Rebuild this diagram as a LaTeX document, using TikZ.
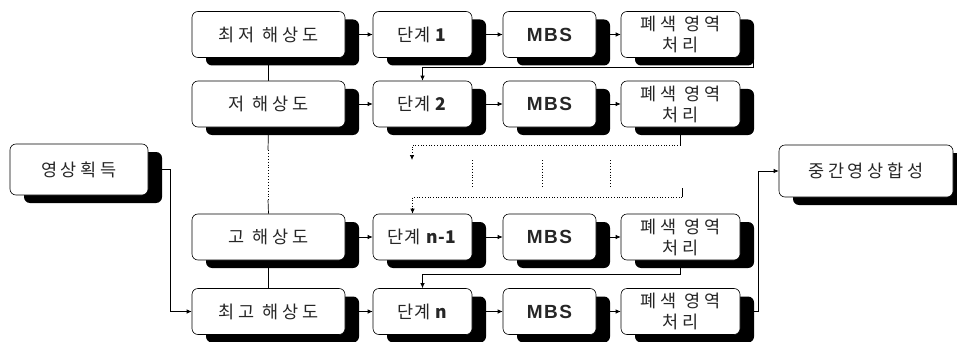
\documentclass[tikz,border=0pt]{standalone}
\usepackage{fontspec}
\setmainfont{Liberation Sans}
\newfontfamily\kr[LetterSpace=22]{Noto Sans CJK KR}
\newfontfamily\krs[LetterSpace=4]{Noto Sans CJK KR}
\newfontfamily\mbs[LetterSpace=8]{Liberation Sans}
\usetikzlibrary{shadows,arrows.meta,backgrounds}
\begin{document}
\begin{tikzpicture}[x=1pt,y=-1pt,
  box/.style={draw=black, line width=0.6pt, fill=white, rounded corners=6pt,
    minimum height=46pt, inner sep=0pt, align=center, text=black!85,
    font=\fontsize{17.5}{21}\selectfont,
    drop shadow={shadow xshift=14pt, shadow yshift=-8pt, fill=black, opacity=1}},
  colA/.style={box, minimum width=153pt},
  colB/.style={box, minimum width=99pt},
  colC/.style={box, minimum width=93pt, font=\fontsize{19}{21}\selectfont},
  colD/.style={box, minimum width=119pt},
  arr/.style={-{Latex[length=5pt,width=4.5pt]}, line width=0.7pt},
  conn/.style={line width=0.7pt},
  dots/.style={line width=0.9pt, dotted}
]
\useasboundingbox (0,0) rectangle (957,342);

% left / right boxes
\node[box, minimum width=138pt, minimum height=51pt] (G) at (79,169.5) {\kr 영상획득};
\node[box, minimum width=174pt, minimum height=52pt] (E) at (866,171) {\kr 중간영상합성};

% rows
\node[colA] (A1) at (268.5,34.5) {\kr 최저 해상도};
\node[colB] (B1) at (422.5,34.5) {\krs 단계 \textbf{1}};
\node[colC] (C1) at (549.5,34.5) {\mbs\bfseries MBS};
\node[colD] (D1) at (680.5,34.5) {\kr 폐색 영역\\\kr 처리};

\node[colA] (A2) at (268.5,104) {\kr 저 해상도};
\node[colB] (B2) at (422.5,104) {\krs 단계 \textbf{2}};
\node[colC] (C2) at (549.5,104) {\mbs\bfseries MBS};
\node[colD] (D2) at (680.5,104) {\kr 폐색 영역\\\kr 처리};

\node[colA] (A3) at (268.5,237) {\kr 고 해상도};
\node[colB] (B3) at (422.5,237) {\krs 단계 \textbf{n-1}};
\node[colC] (C3) at (549.5,237) {\mbs\bfseries MBS};
\node[colD] (D3) at (680.5,237) {\kr 폐색 영역\\\kr 처리};

\node[colA] (A4) at (268.5,311.5) {\kr 최고 해상도};
\node[colB] (B4) at (422.5,311.5) {\krs 단계 \textbf{n}};
\node[colC] (C4) at (549.5,311.5) {\mbs\bfseries MBS};
\node[colD] (D4) at (680.5,311.5) {\kr 폐색 영역\\\kr 처리};

\coordinate (m1) at (412,160);
\coordinate (p1) at (268,150);
\coordinate (p2) at (268,200);
\coordinate (q1) at (682,188);

\begin{scope}[on background layer]
  % row arrows
  \foreach \r in {1,2,3,4}{
    \draw[arr] (A\r.east) -- (B\r.west);
    \draw[arr] (B\r.east) -- (C\r.west);
    \draw[arr] (C\r.east) -- (D\r.west);
  }
  % resolution column
  \draw[conn] (A1.south) -- (A2.north);
  \draw[conn] (A2.south) -- (p1);
  \draw[dots] (p1) -- (p2);
  \draw[conn] (p2) -- (A3.north);
  \draw[conn] (A3.south) -- (A4.north);
  % input
  \draw[arr] (G.east) -- ++(22,0) |- (A4.west);
  % feedback loops
  \draw[arr] ([xshift=13pt]D1.south east) -- ++(0,10) -| (B2.north);
  \draw[conn] (D2.south) -- ++(0,18) coordinate (d2a);
  \draw[arr, dotted] (d2a) -| (m1);
  \draw[dots] (472,160) -- (472,187);
  \draw[dots] (542,160) -- (542,187);
  \draw[dots] (610,160) -- (610,187);
  \draw[conn] (q1) -- ++(0,9) coordinate (q2);
  \draw[arr, dotted] (q2) -| ([xshift=-10pt]B3.north);
  \draw[arr] (D3.south) -- ++(0,14) -| (B4.north);
  % output
  \draw[arr] (D4.east) -- ++(18,0) |- (E.west);
\end{scope}
\end{tikzpicture}
\end{document}
